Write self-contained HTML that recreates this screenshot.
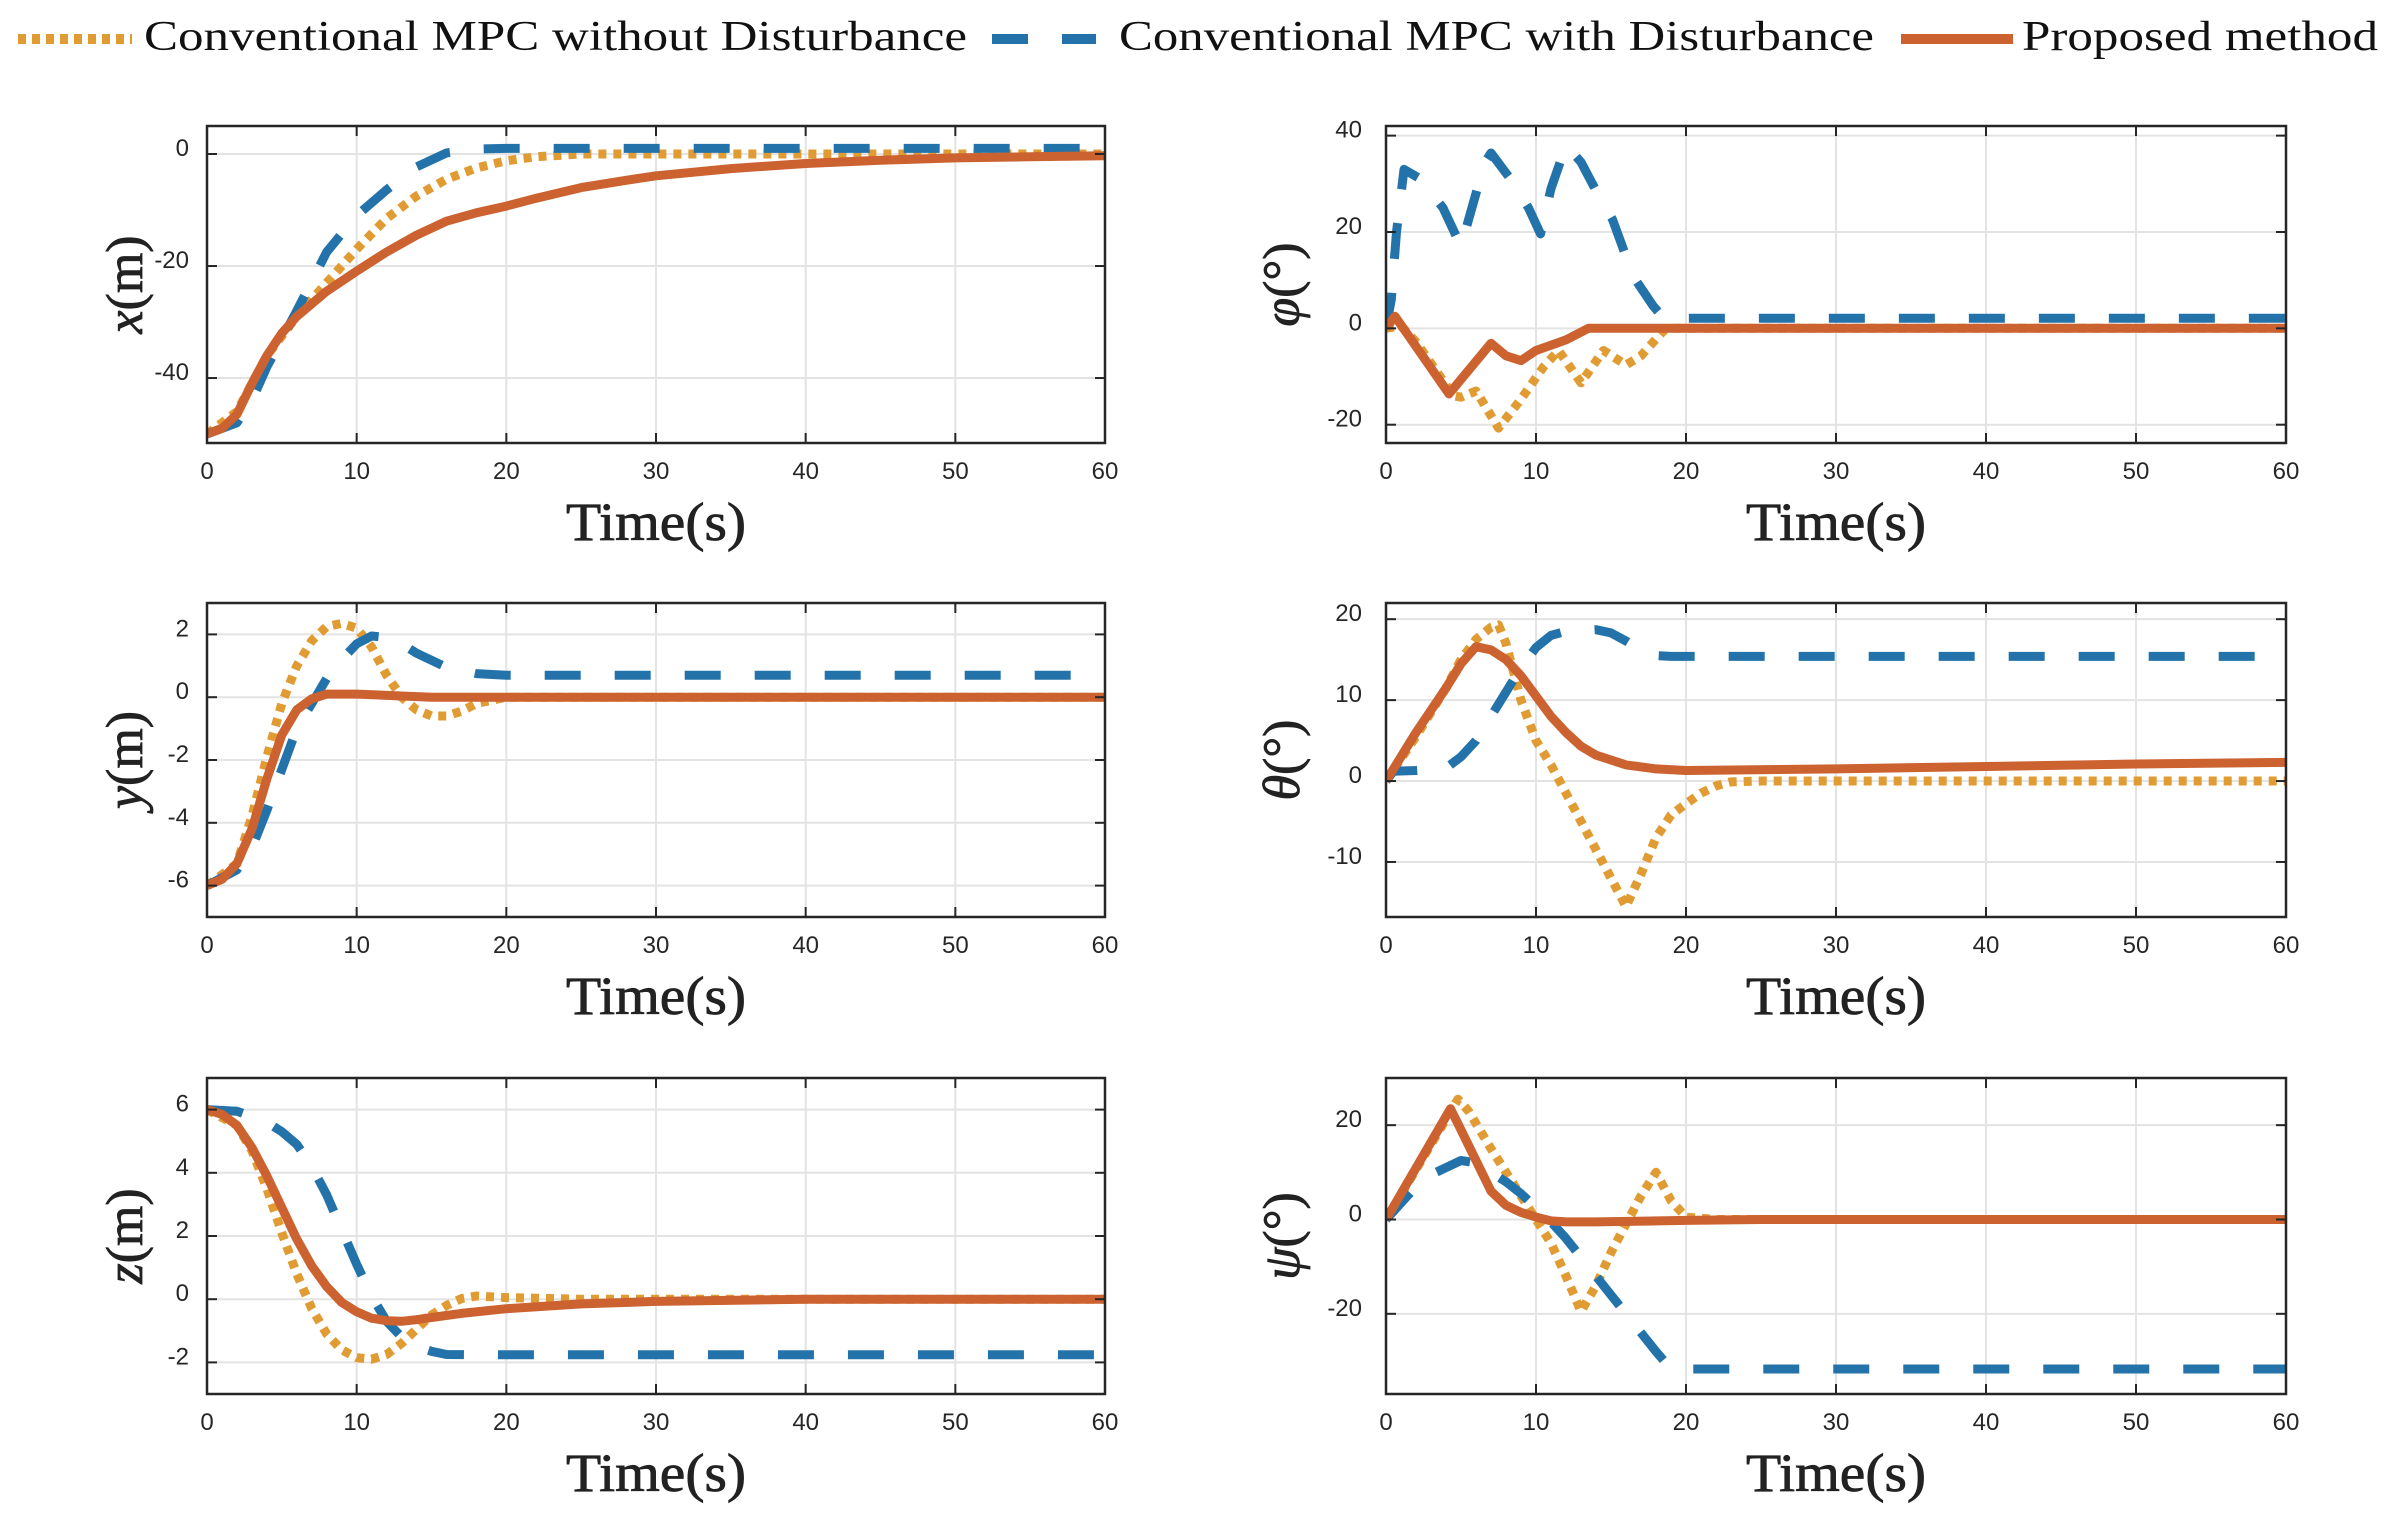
<!DOCTYPE html>
<html><head><meta charset="utf-8"><style>
html,body{margin:0;padding:0;background:#fff;}
svg{display:block;}
</style></head><body>
<svg id="fig" width="2395" height="1519" viewBox="0 0 2395 1519" xmlns="http://www.w3.org/2000/svg">
<g font-family="Liberation Serif, serif" font-size="42" fill="#111">
  <line x1="18" y1="39" x2="132" y2="39" stroke="#E19B33" stroke-width="10" stroke-dasharray="8,6"/>
  <text x="144" y="50" textLength="823" lengthAdjust="spacingAndGlyphs">Conventional MPC without Disturbance</text>
  <line x1="992" y1="39" x2="1096" y2="39" stroke="#2373AA" stroke-width="10" stroke-dasharray="36,34"/>
  <text x="1119" y="50" textLength="755" lengthAdjust="spacingAndGlyphs">Conventional MPC with Disturbance</text>
  <line x1="1901" y1="39" x2="2013" y2="39" stroke="#CC6230" stroke-width="10"/>
  <text x="2022" y="50" textLength="356" lengthAdjust="spacingAndGlyphs">Proposed method</text>
</g>
</svg>
<script>
// ---- data ----
const xTicks = [0,10,20,30,40,50,60];
// panel x
const xP_t = [0,1,2,3,4,5,6,8,10,12,14,16,18,20,22,25,28,30,35,40,45,50,55,60];
const xP_v = [-50,-49,-46.5,-41,-36,-32,-29,-24.5,-20.9,-17.5,-14.5,-12,-10.5,-9.3,-7.9,-6,-4.7,-3.9,-2.6,-1.7,-1.1,-0.7,-0.5,-0.3];
const xN_t = [0,2,3,4,6,8,10,12,14,16,18,20,22,25,60];
const xN_v = [-50,-46,-41,-36,-29,-23,-17,-11.5,-7.5,-4.5,-2.5,-1.2,-0.5,0,0];
const xD_t = [0,2,3,4,6,8,10,12,14,16,18,20,60];
const xD_v = [-50,-48,-44,-38,-28,-17.5,-11,-6.4,-2.3,0.2,0.9,1,1];
// panel phi
const phP_t = [0,0.6,4.2,7,8,9,10,12,13.5,60];
const phP_v = [0,2.5,-13.6,-3.1,-5.7,-6.7,-4.6,-2.4,0,0];
const phN_t = [0,1,2,4.5,5,6,7.5,9,10.5,11.5,13,14.5,16,17,18.5,19,60];
const phN_v = [0,0.5,-2.8,-14,-14.3,-13,-20.7,-14.7,-8,-4.6,-11.3,-4.6,-7.6,-5.7,-0.5,0,0];
const phD_t = [0,0.35,0.7,1.2,2.3,3.8,5,6,6.5,7,8.3,9.5,10.3,11,12,13,14,15.1,16.5,17.8,18.5,60];
const phD_v = [0,6,20,33,31,25,17,28,34,36.4,31,25,19.6,29,38,34.5,28.6,22.6,10.7,4.7,2.1,2.1];
// panel y
const yP_t = [0,1,2,3,4,5,6,7,8,10,15,60];
const yP_v = [-6,-5.8,-5.3,-4.2,-2.6,-1.2,-0.4,-0.05,0.1,0.1,0,0];
const yN_t = [0,2,3,4,5,6,7,8,9,10,11,12,13,14,15,16,17,18,20,60];
const yN_v = [-6,-5.3,-3.8,-1.9,-0.2,1,1.8,2.25,2.35,2.2,1.6,0.7,0,-0.4,-0.6,-0.6,-0.45,-0.2,0,0];
const yD_t = [0,2,3,4,5,6,7,8,9,10,11,12,13,14,16,18,20,60];
const yD_v = [-6,-5.5,-4.8,-3.6,-2.3,-1,-0.2,0.6,1.2,1.7,1.95,1.9,1.7,1.4,0.95,0.75,0.7,0.7];
// panel theta
const thP_t = [0,1,2,4,5,6,7,8,9,10,11,12,13,14,16,18,20,30,40,50,60];
const thP_v = [0,3,6,11.5,14.5,16.6,16.2,15,13,10.5,8,6,4.3,3.2,2,1.5,1.3,1.5,1.8,2.1,2.3];
const thN_t = [0,2,4,5,6,7,7.5,8,9,10,11,12,13,14,15,16,17,18,19,20,21,22,23,25,60];
const thN_v = [0,5.5,11.5,15,17.5,19,19.3,17,10,5,2,-1.5,-5,-8.5,-12,-15.5,-11.5,-7,-4.2,-2.8,-1.5,-0.6,-0.1,0,0];
const thD_t = [0,0.5,2,4,5,6,7,8,9,10,11,12,14,15,16,17,18,19,60];
const thD_v = [0,1.2,1.3,1.6,3,5,8,11,14,16.5,18,18.5,18.7,18.3,17.3,16.2,15.5,15.4,15.4];
// panel psi
const psP_t = [0,4.3,5,6,7,8,9,10,11,12,14,20,25,60];
const psP_v = [0,23.5,19,12.5,6,3,1.5,0.5,-0.3,-0.5,-0.5,-0.2,0,0];
const psN_t = [0,4.8,5.5,7,9,10,11,12,13,14,15,16,17,18,19,20,22,60];
const psN_v = [0,25.5,23,15,5,0,-5,-12,-19.5,-14,-7,-1,5,10,4,0.5,0,0];
const psD_t = [0,1,2,3,4,5,6,7,8,9,10,11,12,13,14,15,16,17,18,19,60];
const psD_v = [0,3.5,7,9.5,11,12.5,12,10,8,5.5,2.5,-0.5,-4,-8,-12,-16,-20,-24,-28,-31.7,-31.7];
// y tick labels
const xTickY = [-40,-20,0];
const phTickY = [-20,0,20,40];
const yTickY = [-6,-4,-2,0,2];
const zTickY = [-2,0,2,4,6];
const thTickY = [-10,0,10,20];
const psTickY = [-20,0,20];
// panel z
const zP_t = [0,1,2,3,4,5,6,7,8,9,10,11,12,13,14,15,17,20,25,30,40,60];
const zP_v = [6,5.85,5.5,4.8,3.9,2.9,1.9,1.05,0.4,-0.1,-0.4,-0.6,-0.68,-0.7,-0.65,-0.58,-0.45,-0.3,-0.15,-0.07,0,0];
const zN_t = [0,2,3,4,5,6,7,8,9,10,11,12,13,14,15,16,17,18,20,25,60];
const zN_v = [6,5.5,4.7,3.5,2.1,0.8,-0.3,-1.1,-1.6,-1.85,-1.9,-1.75,-1.4,-0.95,-0.5,-0.2,0.02,0.1,0.05,0,0];
const zD_t = [0,2,4,5,6,7,8,9,10,11,12,13,14,15,16,18,60];
const zD_v = [6,5.95,5.6,5.3,4.9,4.2,3.3,2.2,1.1,0.1,-0.7,-1.2,-1.5,-1.65,-1.75,-1.76,-1.76];

const C_N = '#E19B33', C_D = '#2373AA', C_P = '#CC6230';
const NS = 'http://www.w3.org/2000/svg';
const svg = document.getElementById('fig');
function mk(tag, attrs, parent){const e=document.createElementNS(NS,tag);for(const k in attrs)e.setAttribute(k,attrs[k]);(parent||svg).appendChild(e);return e;}

const panels = [
 {id:'x', L:207,R:1105,T:126,B:443, ymin:-51.6,ymax:5, ticks:xTickY, lab:'x', unit:'(m)', lx:125, s:[[xN_t,xN_v],[xD_t,xD_v],[xP_t,xP_v]]},
 {id:'phi', L:1386,R:2286,T:126,B:443, ymin:-23.8,ymax:42, ticks:phTickY, lab:'φ', unit:'(°)', lx:1282, s:[[phN_t,phN_v],[phD_t,phD_v],[phP_t,phP_v]]},
 {id:'y', L:207,R:1105,T:603,B:917, ymin:-7,ymax:3, ticks:yTickY, lab:'y', unit:'(m)', lx:125, s:[[yN_t,yN_v],[yD_t,yD_v],[yP_t,yP_v]]},
 {id:'theta', L:1386,R:2286,T:603,B:917, ymin:-16.8,ymax:22, ticks:thTickY, lab:'θ', unit:'(°)', lx:1282, s:[[thN_t,thN_v],[thD_t,thD_v],[thP_t,thP_v]]},
 {id:'z', L:207,R:1105,T:1078,B:1394, ymin:-3,ymax:7, ticks:zTickY, lab:'z', unit:'(m)', lx:125, s:[[zN_t,zN_v],[zD_t,zD_v],[zP_t,zP_v]]},
 {id:'psi', L:1386,R:2286,T:1078,B:1394, ymin:-37,ymax:30, ticks:psTickY, lab:'ψ', unit:'(°)', lx:1282, s:[[psN_t,psN_v],[psD_t,psD_v],[psP_t,psP_v]]}
];
const styles = [
 {c:C_N, w:9, dash:'8,7', name:'no-disturbance'},
 {c:C_D, w:9, dash:'36,34', name:'with-disturbance'},
 {c:C_P, w:9, dash:'', name:'proposed'}
];
const defs = mk('defs',{});
panels.forEach(p=>{
  const sx = t => p.L + (t-0)/(60-0)*(p.R-p.L);
  const sy = v => p.B - (v-p.ymin)/(p.ymax-p.ymin)*(p.B-p.T);
  const g = mk('g',{});
  
  
  const cp = mk('clipPath',{id:'clip-'+p.id},defs);
  mk('rect',{x:p.L,y:p.T,width:p.R-p.L,height:p.B-p.T},cp);
  xTicks.forEach(t=>{
    const l = mk('line',{x1:sx(t),x2:sx(t),y1:p.T,y2:p.B,stroke:'#e3e3e3','stroke-width':2},g);
    
    
  });
  p.ticks.forEach(v=>{
    const l = mk('line',{x1:p.L,x2:p.R,y1:sy(v),y2:sy(v),stroke:'#e3e3e3','stroke-width':2},g);
    
    
  });
  p.s.forEach((ser,i)=>{
    const st = styles[i];
    const d = ser[0].map((t,k)=>(k?'L':'M')+sx(t).toFixed(1)+','+sy(ser[1][k]).toFixed(1)).join(' ');
    const path = mk('path',{d:d,fill:'none',stroke:st.c,'stroke-width':st.w,'stroke-linejoin':'round','clip-path':'url(#clip-'+p.id+')'},g);
    if(st.dash) path.setAttribute('stroke-dasharray', st.dash);
    
    
  });
  xTicks.forEach(t=>{
    mk('line',{x1:sx(t),x2:sx(t),y1:p.B,y2:p.B-10,stroke:'#262626','stroke-width':2},g);
    mk('line',{x1:sx(t),x2:sx(t),y1:p.T,y2:p.T+10,stroke:'#262626','stroke-width':2},g);
    const tx = mk('text',{x:sx(t),y:p.B+36,'text-anchor':'middle','font-family':'Liberation Sans, sans-serif','font-size':24,fill:'#262626'},g);
    tx.textContent = t;
    
    
  });
  p.ticks.forEach(v=>{
    mk('line',{x1:p.L,x2:p.L+10,y1:sy(v),y2:sy(v),stroke:'#262626','stroke-width':2},g);
    mk('line',{x1:p.R,x2:p.R-10,y1:sy(v),y2:sy(v),stroke:'#262626','stroke-width':2},g);
    const tx = mk('text',{x:p.L-(p.L>1000?24:18),y:sy(v)+2,'text-anchor':'end','font-family':'Liberation Sans, sans-serif','font-size':24,fill:'#262626'},g);
    tx.textContent = v;
    
    
  });
  const box = mk('rect',{x:p.L,y:p.T,width:p.R-p.L,height:p.B-p.T,fill:'none',stroke:'#262626','stroke-width':2.5},g);
  
  
  const xl = mk('text',{x:(p.L+p.R)/2,y:p.B+97,'text-anchor':'middle','font-family':'Liberation Serif, serif','font-size':54,fill:'#222',stroke:'#222','stroke-width':0.8,textLength:180,lengthAdjust:'spacingAndGlyphs'},g);
  xl.textContent = 'Time(s)';
  
  
  const cy = (p.T+p.B)/2;
  const yl = mk('text',{x:0,y:0,'text-anchor':'middle','font-family':'Liberation Serif, serif','font-size':52,fill:'#222',stroke:'#222','stroke-width':0.8,transform:'translate('+(p.lx+17)+','+cy+') rotate(-90)'},g);
  const ts1 = mk('tspan',{'font-style':'italic'},yl); ts1.textContent = p.lab;
  const ts2 = mk('tspan',{},yl); ts2.textContent = p.unit;
  
  
});
</script>
</body></html>
